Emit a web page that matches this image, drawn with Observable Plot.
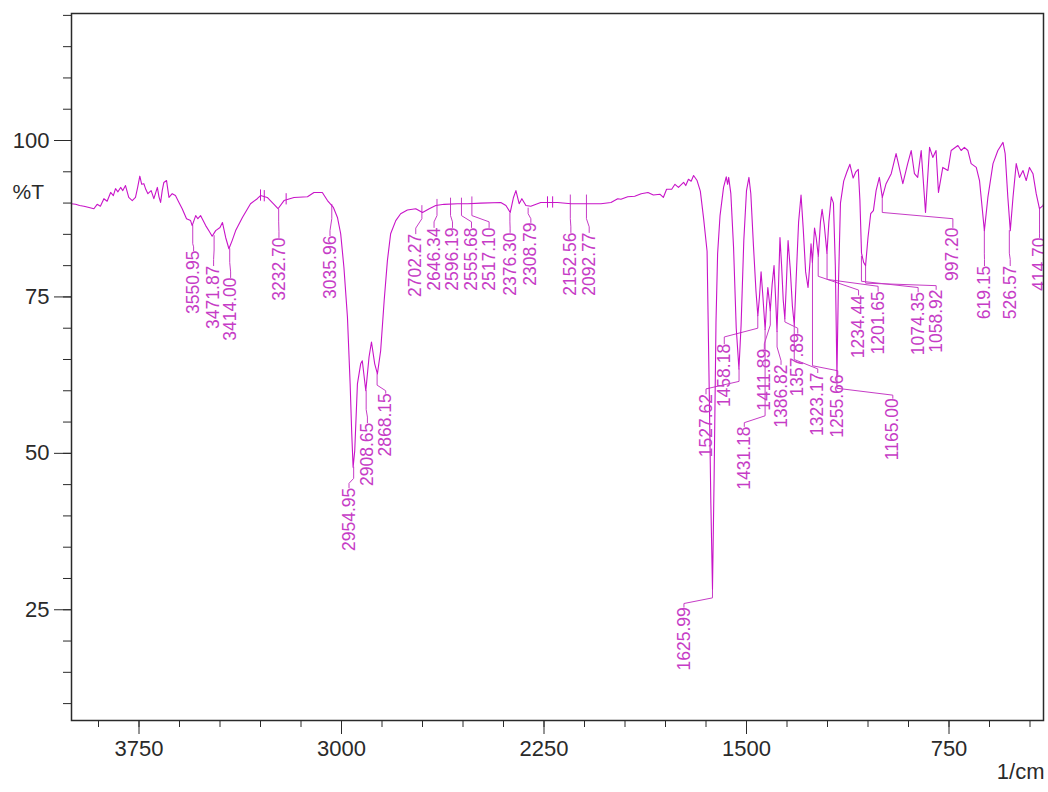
<!DOCTYPE html>
<html><head><meta charset="utf-8">
<script src="https://cdn.jsdelivr.net/npm/d3@7"></script>
<script src="https://cdn.jsdelivr.net/npm/@observablehq/plot@0.6"></script>
<style>html,body{margin:0;padding:0;background:#fff;} #chart svg{display:block}</style>
</head><body><div id="chart"></div>
<script>
// ---- Spectrum (wavenumber 1/cm, %T) ----
const spectrumWn = [
 4000,3985,3970,3954,3935,3917,3905,3893,3880,3868,
 3855,3845,3837,3828,3818,3810,3800,3788,3775,3763,
 3755,3747,3740,3732,3725,3717,3705,3695,3682,3676,
 3670,3664,3658,3648,3639,3627,3615,3602,3590,3574,
 3559,3553,3540,3532,3522,3503,3490,3479,3466,3450,
 3441,3429,3417,3405,3392,3367,3337,3312,3300,3275,
 3250,3235,3213,3176,3126,3102,3071,3052,3030,3015,
 3003,2991,2978,2968,2962,2957,2951,2941,2929,2923,
 2910,2898,2889,2877,2867,2855,2842,2830,2818,2799,
 2781,2756,2725,2700,2675,2651,2620,2570,2533,2484,
 2410,2391,2375,2363,2354,2342,2332,2317,2299,2262,
 2200,2150,2101,2039,2002,1977,1965,1940,1914,1890,
 1865,1845,1820,1808,1796,1777,1765,1752,1733,1725,
 1715,1705,1696,1683,1671,1659,1646,1638,1632,1626,
 1620,1613,1607,1598,1585,1575,1570,1566,1558,1548,
 1538,1528,1520,1510,1500,1491,1484,1474,1465,1458,
 1452,1446,1440,1431,1426,1421,1416,1412,1405,1398,
 1393,1387,1382,1376,1370,1364,1358,1352,1346,1338,
 1330,1323,1316,1307,1298,1290,1281,1272,1265,1261,
 1256,1248,1242,1234,1226,1220,1212,1202,1195,1186,
 1178,1171,1165,1160,1152,1140,1128,1117,1105,1095,
 1086,1080,1074,1066,1059,1050,1040,1030,1020,1008,
 997,983,964,946,940,921,903,890,878,866,
 853,837,822,810,798,789,773,754,742,717,
 705,693,680,668,649,637,619,606,587,569,
 550,542,532,523,513,501,489,476,464,452,
 439,427,415,402,400
];
const spectrumT = [
 89.9,89.8,89.6,89.5,89.3,89.1,89.8,89.5,90.7,90.3,
 91.7,91.2,92.3,91.8,92.5,92.0,92.8,90.9,90.4,90.9,
 92.5,94.3,93.0,93.1,92.2,91.5,92.0,90.7,92.5,91.0,
 90.1,92.0,93.3,93.6,90.9,91.5,91.2,90.1,89.1,87.5,
 87.2,86.4,88.0,87.5,88.0,86.4,85.5,84.7,85.6,86.1,
 86.9,84.5,82.7,84.0,85.6,87.7,89.9,90.7,91.2,90.9,
 89.8,89.1,90.4,90.9,91.0,91.7,91.7,90.4,89.3,87.7,
 85.1,79.7,71.8,61.1,53.1,47.8,50.4,61.1,64.3,64.8,
 60.0,65.4,67.8,64.3,62.7,66.4,74.4,80.8,85.1,87.2,
 88.3,88.9,89.1,88.5,89.1,89.6,89.8,89.9,89.9,90.0,
 90.1,89.6,88.5,90.9,92.0,89.9,90.7,89.6,89.5,90.1,
 90.1,89.9,89.9,89.9,90.1,90.7,90.6,91.0,91.1,91.5,
 91.7,91.3,91.4,90.9,92.2,92.2,93.0,92.5,93.3,92.8,
 93.8,93.5,94.4,93.6,91.9,87.6,82.3,60.0,42.0,28.3,
 46.0,70.9,81.9,88.0,92.5,94.2,93.0,94.1,91.5,83.0,
 70.0,63.5,70.5,84.0,92.0,94.1,91.5,83.0,76.0,72.0,
 75.0,79.0,75.5,69.8,73.5,76.5,74.5,72.8,77.0,80.0,
 75.5,69.5,76.0,84.5,80.0,74.5,71.5,77.5,84.0,79.5,
 73.5,70.5,78.0,87.0,91.3,86.0,79.0,76.5,80.5,83.5,
 80.5,86.0,84.5,81.5,87.0,89.0,86.5,82.0,87.0,91.0,
 90.0,80.0,62.5,76.0,90.0,93.5,95.0,96.2,94.0,95.0,
 95.4,90.5,82.0,80.5,80.0,84.5,88.3,88.8,92.0,94.1,
 90.9,93.1,94.7,97.9,96.8,93.1,96.3,98.4,94.7,94.1,
 98.4,88.5,98.9,97.3,98.4,91.7,95.7,95.2,98.4,99.2,
 98.4,98.9,98.4,96.3,95.7,93.6,85.6,90.9,96.3,98.4,
 99.7,97.9,90.9,85.6,90.9,96.3,94.1,95.2,93.6,95.7,
 94.7,91.5,89.1,89.6,89.8
];

// ---- Peak labels ----
const labelText = ["3550.95","3471.87","3414.00","3232.70","3035.96","2954.95","2908.65","2868.15",
 "2702.27","2646.34","2596.19","2555.68","2517.10","2376.30","2308.79","2152.56","2092.77",
 "1625.99","1527.62","1458.18","1431.18","1411.89","1386.82","1357.89","1323.17","1255.66",
 "1234.44","1201.65","1165.00","1074.35","1058.92","997.20","619.15","526.57","414.70"];
const leadTopT = [86.4,84.8,82.7,89.0,89.8,47.8,60.0,62.7,89.6,90.6,90.8,90.8,91.0,88.4,89.2,91.3,91.3,
 28.3,63.5,72.0,69.8,72.8,69.5,71.5,70.5,80.5,81.5,82.0,62.5,81.5,80.0,90.9,85.6,85.6,89.1];
const kneePeakT = [83.5,82.5,80.5,87.0,87.5,46.0,57.0,60.9,87.5,88.0,88.0,88.0,88.0,87.0,88.3,87.5,87.5,
 26.9,61.5,70.0,56.0,70.5,67.0,71.0,65.0,64.0,78.3,77.8,60.4,77.5,77.2,88.5,82.0,82.0,86.5];
const labelWn = [3547.8,3473.7,3410.7,3231.7,3042.6,2972.2,2904.0,2836.2,2725.0,2657.2,2588.9,2518.5,2453.3,
 2375.5,2298.7,2150.5,2082.6,1731.7,1650.0,1582.3,1508.2,1434.0,1372.1,1310.2,1236.1,1162.0,
 1084.9,1012.6,958.1,864.3,797.6,735.7,618.6,523.3,414.7];
const kneeLabelT = [83.0,81.0,79.0,85.5,85.6,45.2,55.8,60.0,86.0,87.0,87.0,87.0,87.0,86.0,87.5,86.2,86.2,
 26.0,60.3,68.6,54.9,67.5,64.8,70.0,63.5,63.2,76.1,76.7,59.3,76.5,76.8,87.5,81.0,81.0,85.2];
const labelTopT = [82.4,80.0,78.1,84.5,84.8,44.5,54.9,59.6,85.1,86.1,86.1,86.1,86.1,85.3,86.9,85.3,85.3,
 25.4,59.5,67.5,54.3,66.7,64.2,69.2,62.9,62.6,75.3,75.9,58.8,75.8,76.2,86.1,80.0,80.0,84.5];

// small unlabeled peak markers
const markerWn = [3300, 3286, 3205, 2237, 2218];
const markerT = [91.2, 91.1, 90.6, 90.1, 90.1];

// ---- Axis ticks ----
const xMajorTicks = [3750, 3000, 2250, 1500, 750];
const xMinorTicks = [3900,3750,3600,3450,3300,3150,3000,2850,2700,2550,2400,2250,2100,1950,1800,1650,1500,1350,1200,1050,900,750,600,450];
const yMajorTicks = [25, 50, 75, 100];
const yMinorTicks = [10,15,20,25,30,35,40,45,50,55,60,65,70,75,80,85,90,95,100,105,110,115,120];
const yAxisTitle = [{text: "%T", t: 91.8}];
const xAxisTitle = [{text: "1/cm"}];

const magenta = "#c814c8";
const labelColor = "#c63cc6";
const axisColor = "#2a2a2a";

const spectrum = spectrumWn.map((w, i) => ({wn: w, t: spectrumT[i]}));
const peaks = labelText.map((s, i) => ({label: s, wn: +s, lead: leadTopT[i], k1: kneePeakT[i], lw: labelWn[i], k2: kneeLabelT[i], top: labelTopT[i]}));
const leaders = peaks.flatMap((p, i) => [
  {id: i, wn: p.wn, t: p.lead},
  {id: i, wn: p.wn, t: p.k1},
  {id: i, wn: p.lw, t: p.k2},
  {id: i, wn: p.lw, t: p.top}
]);
const markers = markerWn.map((w, i) => ({wn: w, t1: markerT[i] - 0.9, t2: markerT[i] + 0.9}));

const chart = Plot.plot({
  width: 1048,
  height: 792,
  marginLeft: 71,
  marginRight: 5,
  marginTop: 13,
  marginBottom: 72,
  style: {fontFamily: "'Liberation Sans', Arial, sans-serif", background: "#fff", color: axisColor},
  x: {domain: [4000, 400]},
  y: {domain: [7.3, 120.3]},
  marks: [
    Plot.axisY(yMinorTicks, {anchor: "left", tickSize: 8, tickFormat: () => "", label: null, stroke: axisColor}),
    Plot.axisY(yMajorTicks, {anchor: "left", tickSize: 17, tickPadding: 5, fontSize: 22, label: null, stroke: axisColor, fill: axisColor, tickFormat: d => String(d)}),
    Plot.axisX(xMinorTicks, {anchor: "bottom", tickSize: 7, tickFormat: () => "", label: null, stroke: axisColor}),
    Plot.axisX(xMajorTicks, {anchor: "bottom", tickSize: 14, tickPadding: 6, fontSize: 22, label: null, stroke: axisColor, fill: axisColor, tickFormat: d => String(d)}),
    Plot.line(leaders, {x: "wn", y: "t", z: "id", stroke: labelColor, strokeWidth: 1, clip: true}),
    Plot.ruleX(markers, {x: "wn", y1: "t1", y2: "t2", stroke: magenta, strokeWidth: 1}),
    Plot.line(spectrum, {x: "wn", y: "t", stroke: magenta, strokeWidth: 1.1, curve: "linear"}),
    Plot.text(peaks, {x: "lw", y: "top", text: "label", rotate: -90, textAnchor: "end", fontSize: 17.5, fill: labelColor, clip: true}),
    Plot.text(yAxisTitle, {y: "t", text: "text", frameAnchor: "left", textAnchor: "start", dx: -59, fontSize: 21, fill: axisColor}),
    Plot.text(xAxisTitle, {text: "text", frameAnchor: "bottom-right", textAnchor: "end", dy: 58, dx: 1, fontSize: 22, fill: axisColor}),
    Plot.frame({stroke: axisColor, strokeWidth: 1.5})
  ]
});
document.getElementById("chart").appendChild(chart);
</script>
</body></html>
